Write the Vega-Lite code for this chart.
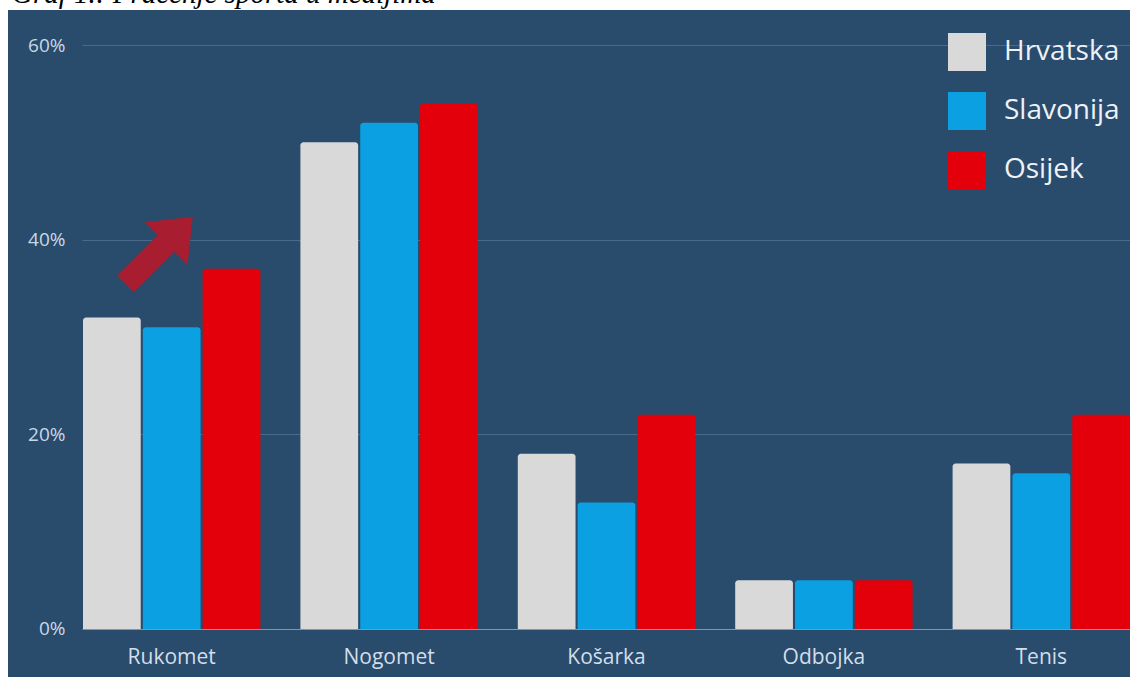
{
  "$schema": "https://vega.github.io/schema/vega-lite/v6.json",
  "width": 1122,
  "height": 667,
  "autosize": {"type": "none"},
  "padding": {"left": 8, "top": 10, "right": 0, "bottom": 0},
  "background": "#ffffff",
  "view": {"fill": "#294b6c", "stroke": null},
  "title": {
    "text": "Graf 1.: Praćenje sporta u medijima",
    "anchor": "start",
    "frame": "group",
    "orient": "top",
    "font": "Liberation Serif",
    "fontStyle": "italic",
    "fontWeight": "normal",
    "fontSize": 29,
    "color": "#000000",
    "offset": 0,
    "baseline": "alphabetic",
    "dx": 4,
    "dy": 22,
    "zindex": 0
  },
  "datasets": {
    "bars": [
      {"sport": "Rukomet", "region": "Hrvatska", "value": 32},
      {"sport": "Rukomet", "region": "Slavonija", "value": 31},
      {"sport": "Rukomet", "region": "Osijek", "value": 37},
      {"sport": "Nogomet", "region": "Hrvatska", "value": 50},
      {"sport": "Nogomet", "region": "Slavonija", "value": 52},
      {"sport": "Nogomet", "region": "Osijek", "value": 54},
      {"sport": "Košarka", "region": "Hrvatska", "value": 18},
      {"sport": "Košarka", "region": "Slavonija", "value": 13},
      {"sport": "Košarka", "region": "Osijek", "value": 22},
      {"sport": "Odbojka", "region": "Hrvatska", "value": 5},
      {"sport": "Odbojka", "region": "Slavonija", "value": 5},
      {"sport": "Odbojka", "region": "Osijek", "value": 5},
      {"sport": "Tenis", "region": "Hrvatska", "value": 17},
      {"sport": "Tenis", "region": "Slavonija", "value": 16},
      {"sport": "Tenis", "region": "Osijek", "value": 22}
    ],
    "arrow": [
      {"sport": "Rukomet", "value": 38.9}
    ]
  },
  "layer": [
    {
      "data": {"name": "bars"},
      "mark": {"type": "bar", "cornerRadiusTopLeft": 3, "cornerRadiusTopRight": 3},
      "encoding": {
        "x": {
          "field": "sport",
          "type": "nominal",
          "sort": ["Rukomet", "Nogomet", "Košarka", "Odbojka", "Tenis"],
          "scale": {"paddingInner": 0.184, "paddingOuter": 0.1725, "align": 1},
          "axis": {
            "orient": "bottom",
            "offset": -48,
            "ticks": false,
            "domain": false,
            "labelPadding": 17,
            "labelAngle": 0,
            "labelFont": "Open Sans",
            "labelFontSize": 21,
            "labelColor": "#d2dee9",
            "title": null
          }
        },
        "xOffset": {
          "field": "region",
          "type": "nominal",
          "sort": ["Hrvatska", "Slavonija", "Osijek"],
          "scale": {"paddingInner": 0.035, "paddingOuter": 0}
        },
        "y": {
          "field": "value",
          "type": "quantitative",
          "scale": {"domain": [-4.932, 63.596], "nice": false, "zero": false},
          "axis": {
            "values": [0, 20, 40, 60],
            "labelExpr": "datum.value + '%'",
            "domain": false,
            "grid": false,
            "ticks": true,
            "tickSize": -1048,
            "tickWidth": 1,
            "tickColor": {"condition": {"test": "datum.value === 0", "value": "#7f96ad"}, "value": "#4a6a8a"},
            "offset": -74,
            "labelPadding": 1065,
            "labelFont": "Open Sans",
            "labelFontSize": 19,
            "labelColor": "#c9d8e5",
            "title": null
          }
        },
        "y2": {"datum": 0},
        "color": {
          "field": "region",
          "type": "nominal",
          "sort": ["Hrvatska", "Slavonija", "Osijek"],
          "scale": {"domain": ["Hrvatska", "Slavonija", "Osijek"], "range": ["#d9d9d9", "#0aa0e1", "#e3000b"]},
          "legend": {
            "orient": "none",
            "legendX": 940,
            "legendY": 23,
            "title": null,
            "symbolType": "square",
            "symbolSize": 1444,
            "symbolStrokeWidth": 0,
            "symbolOpacity": 1,
            "labelFont": "Open Sans",
            "labelFontSize": 28,
            "labelColor": "#eef2f6",
            "labelOffset": 18,
            "rowPadding": 21,
            "labelLimit": 300
          }
        }
      }
    },
    {
      "data": {"name": "arrow"},
      "mark": {
        "type": "point",
        "shape": "M0,-1L0.64,-0.2L0.25,-0.2L0.25,1L-0.25,1L-0.25,-0.2L-0.64,-0.2Z",
        "angle": 45,
        "size": 9000,
        "filled": true,
        "color": "#a81d30",
        "opacity": 1,
        "strokeWidth": 0
      },
      "encoding": {
        "x": {"field": "sport", "type": "nominal", "sort": ["Rukomet", "Nogomet", "Košarka", "Odbojka", "Tenis"], "bandPosition": 0.43},
        "y": {"field": "value", "type": "quantitative"}
      }
    }
  ]
}
